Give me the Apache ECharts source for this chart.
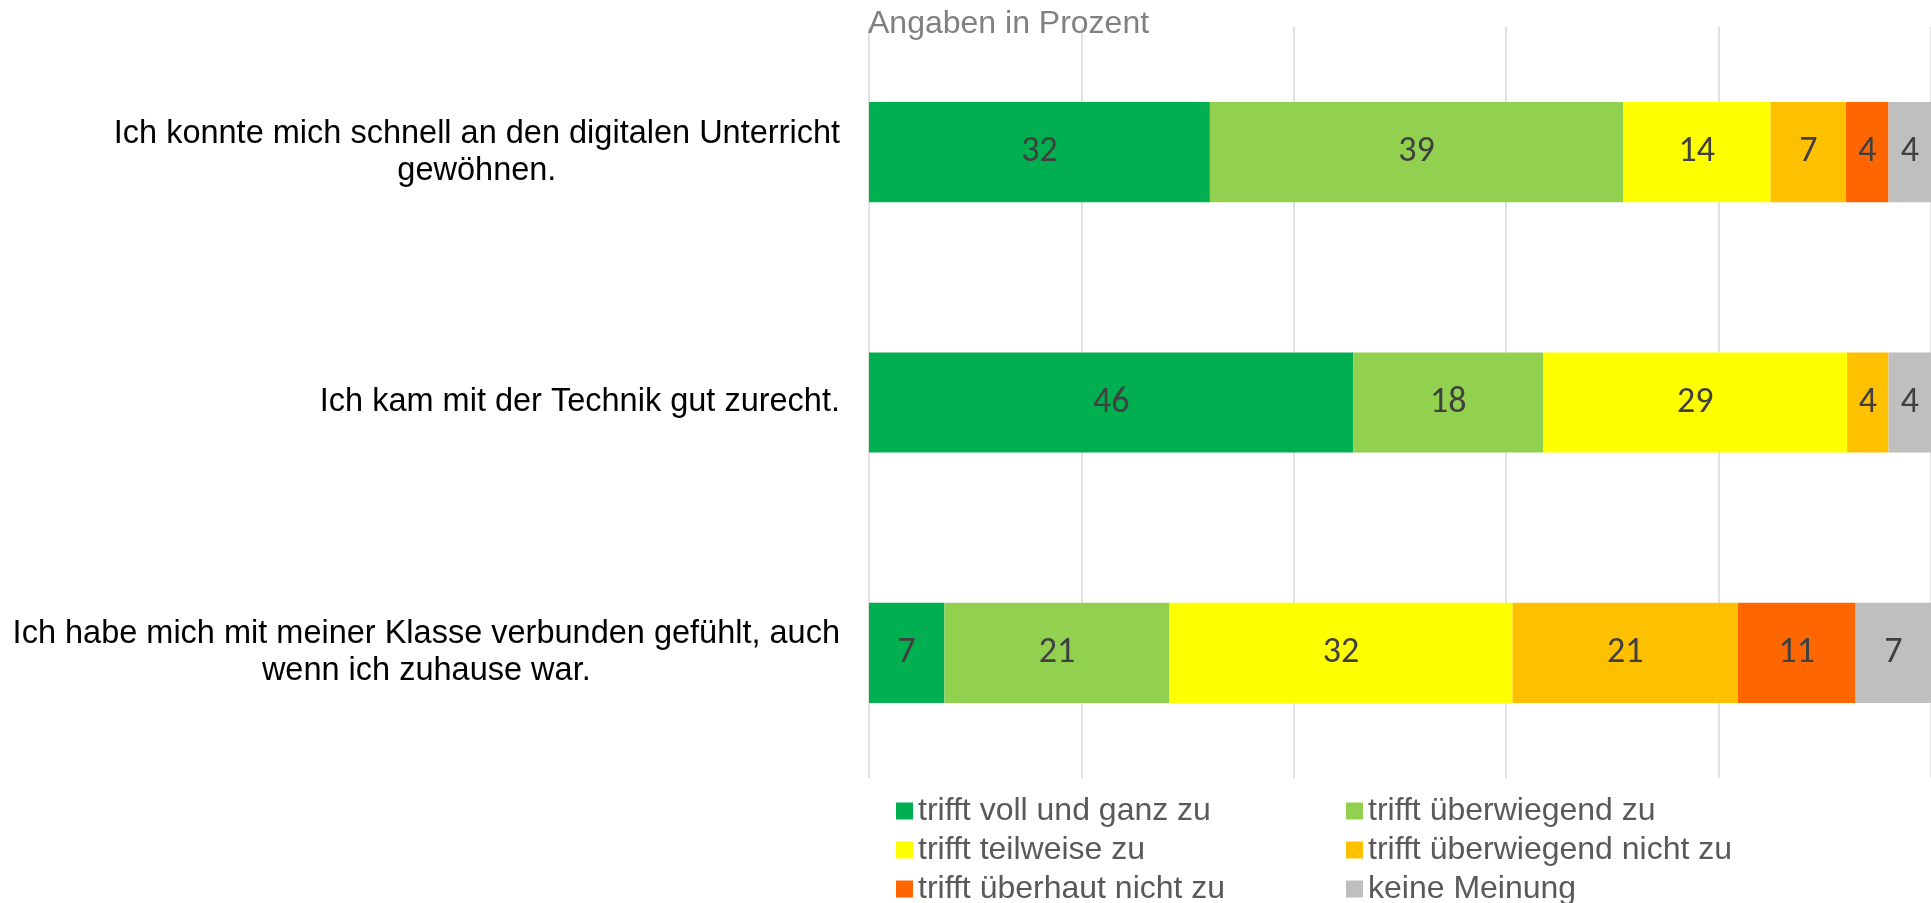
<!DOCTYPE html>
<html>
<head>
<meta charset="utf-8">
<title>Digitaler Unterricht</title>
<script src="https://cdn.jsdelivr.net/npm/echarts@6/dist/echarts.min.js"></script>
<style>
  html, body { margin: 0; padding: 0; background: #fff; }
  #main { width: 1931px; height: 903px; }
</style>
</head>
<body>
<div id="main"></div>
<script>
// Aussagen (y-Achse, von oben nach unten)
const aussagen = [
  "Ich konnte mich schnell an den digitalen Unterricht\ngewöhnen.",
  "Ich kam mit der Technik gut zurecht.",
  "Ich habe mich mit meiner Klasse verbunden gefühlt, auch\nwenn ich zuhause war."
];
const xTicks = [0, 20, 40, 60, 80, 100];

// Anteile in Prozent, je Antwortkategorie
const vollUndGanz      = [32.1, 45.6, 7.1];
const ueberwiegend     = [38.9, 17.9, 21.2];
const teilweise        = [13.9, 28.6, 32.3];
const ueberwNicht      = [7.1, 3.9, 21.2];
const ueberhauptNicht  = [4.0, null, 11.1];
const keineMeinung     = [4.0, 4.0, 7.1];

const namen = [
  "trifft voll und ganz zu",
  "trifft überwiegend zu",
  "trifft teilweise zu",
  "trifft überwiegend nicht zu",
  "trifft überhaut nicht zu",
  "keine Meinung"
];
const farben = ["#00B050", "#92D050", "#FFFF00", "#FFC000", "#FF6600", "#BFBFBF"];
const werte = [vollUndGanz, ueberwiegend, teilweise, ueberwNicht, ueberhauptNicht, keineMeinung];

let myChart = echarts.init(document.getElementById("main"));

let series = namen.map(function (n, i) {
  return {
    name: n,
    type: "bar",
    stack: "gesamt",
    barWidth: "40%",
    color: farben[i],
    label: {
      show: true,
      position: "inside",
      color: "#404040",
      fontFamily: "Carlito, Lato, sans-serif",
      fontSize: 36,
      formatter: function (p) {
        return p.value == null ? "" : Math.round(p.value);
      }
    },
    data: werte[i]
  };
});

let legendText = {
  color: "#595959",
  fontFamily: "Liberation Sans, Arial, sans-serif",
  fontSize: 32,
  lineHeight: 32
};

let option = {
  animation: false,
  title: {
    text: "Angaben in Prozent",
    left: 868,
    top: 8,
    padding: 0,
    textStyle: {
      color: "#808080",
      fontWeight: "normal",
      fontFamily: "Liberation Sans, Arial, sans-serif",
      fontSize: 32
    }
  },
  legend: [
    {
      orient: "vertical",
      left: 896,
      top: 795,
      height: 112,
      padding: 0,
      itemGap: 7,
      itemWidth: 17,
      itemHeight: 17,
      icon: "rect",
      textStyle: legendText,
      data: [namen[0], namen[2], namen[4]]
    },
    {
      orient: "vertical",
      left: 1346,
      top: 795,
      height: 112,
      padding: 0,
      itemGap: 7,
      itemWidth: 17,
      itemHeight: 17,
      icon: "rect",
      textStyle: legendText,
      data: [namen[1], namen[3], namen[5]]
    }
  ],
  grid: {
    left: 869,
    right: 0,
    top: 27,
    bottom: 125,
    containLabel: false
  },
  xAxis: {
    type: "value",
    min: xTicks[0],
    max: xTicks[xTicks.length - 1],
    interval: xTicks[1] - xTicks[0],
    axisLabel: { show: false },
    axisLine: { show: false },
    axisTick: { show: false },
    splitLine: { show: true, lineStyle: { color: "#D9D9D9", width: 1.5 } }
  },
  yAxis: {
    type: "category",
    inverse: true,
    data: aussagen,
    axisLine: { show: false },
    axisTick: { show: false },
    axisLabel: {
      margin: 29,
      align: "right",
      formatter: function (v) {
        return v.split("\n").map(function (z) { return "{c|" + z + "}"; }).join("\n");
      },
      rich: {
        c: {
          align: "center",
          color: "#000",
          fontFamily: "Liberation Sans, Arial, sans-serif",
          fontSize: 32.5,
          lineHeight: 37
        }
      }
    }
  },
  series: series
};

myChart.setOption(option);
</script>
</body>
</html>
